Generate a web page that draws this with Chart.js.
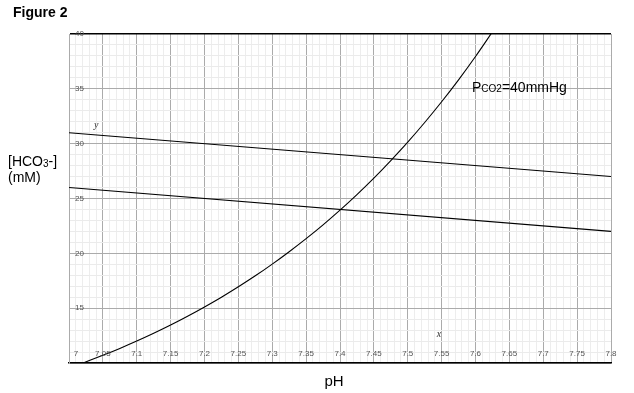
<!DOCTYPE html>
<html>
<head>
<meta charset="utf-8">
<script src="https://cdn.jsdelivr.net/npm/chart.js@4.4.1/dist/chart.umd.min.js"></script>
<style>
  html, body { margin: 0; padding: 0; background: #fff; }
  #wrap { position: relative; width: 634px; height: 393px; }
</style>
</head>
<body>
<div id="wrap"><canvas id="chart" width="634" height="393"></canvas></div>
<script>
// --- Data ---
// pH on the x axis, [HCO3-] in mM on the y axis
const xTickLabels = ['7', '7.05', '7.1', '7.15', '7.2', '7.25', '7.3', '7.35', '7.4',
                     '7.45', '7.5', '7.55', '7.6', '7.65', '7.7', '7.75', '7.8'];
const yTickLabels = [15, 20, 25, 30, 35, 40];

// PCO2 = 40 mmHg isobar
const curvePH   = [7.02, 7.05, 7.075, 7.1, 7.125, 7.15, 7.175, 7.2, 7.225, 7.25, 7.275, 7.3,
                   7.325, 7.35, 7.375, 7.4, 7.425, 7.45, 7.475, 7.5, 7.525, 7.55, 7.575, 7.6, 7.625];
const curveHCO3 = [9.98, 10.70, 11.33, 12.0, 12.71, 13.46, 14.26, 15.11, 16.00, 16.95, 17.95, 19.02,
                   20.15, 21.34, 22.60, 23.94, 25.36, 26.86, 28.46, 30.14, 31.93, 33.82, 35.82, 37.95, 40.20];

// the two straight buffer lines
const upperLinePH   = [7.0, 7.8];
const upperLineHCO3 = [31.0, 27.0];
const lowerLinePH   = [7.0, 7.8];
const lowerLineHCO3 = [26.0, 22.0];

(function () {
    const ctx = document.getElementById('chart').getContext('2d');
    const sans = '"Liberation Sans", Arial, Helvetica, sans-serif';

    function toPoints(xs, ys) {
        return xs.map((x, i) => ({ x: x, y: ys[i] }));
    }

    function isMultiple(v, step) {
        const r = v / step;
        return Math.abs(r - Math.round(r)) < 1e-6;
    }

    // --- Text drawn on top: title, axis names, tick labels, annotations ---
    const textPlugin = {
        id: 'figureText',
        afterDraw(chart) {
            const c = chart.ctx;
            const xs = chart.scales.x;
            const ys = chart.scales.y;
            c.save();
            c.fillStyle = '#000';
            c.textBaseline = 'alphabetic';

            c.font = 'bold 14px ' + sans;
            c.textAlign = 'left';
            c.fillText('Figure 2', 13, 17);

            // y axis name
            c.font = '14px ' + sans;
            c.fillText('[HCO', 8, 166);
            let w = c.measureText('[HCO').width;
            c.font = '10px ' + sans;
            c.fillText('3', 8 + w, 167);
            let w2 = c.measureText('3').width;
            c.font = '14px ' + sans;
            c.fillText('-]', 8 + w + w2, 166);
            c.fillText('(mM)', 8, 182);

            // x axis name
            c.font = '15px ' + sans;
            c.textAlign = 'center';
            c.fillText('pH', 334, 386);

            // PCO2 annotation
            c.textAlign = 'left';
            c.font = '14px ' + sans;
            let ax = 472, ay = 92;
            c.fillText('P', ax, ay);
            ax += c.measureText('P').width;
            c.font = '10px ' + sans;
            c.fillText('CO2', ax, ay);
            ax += c.measureText('CO2').width;
            c.font = '14px ' + sans;
            c.fillText('=40mmHg', ax, ay);

            // x tick labels, inside the plot
            c.font = '8px ' + sans;
            c.fillStyle = '#555';
            c.textAlign = 'center';
            xTickLabels.forEach((t, i) => {
                let px = xs.getPixelForValue(parseFloat(t));
                if (i === 0) px += 7;
                c.fillText(t, px, 356);
            });

            // italic axis letters
            c.fillStyle = '#333';
            c.font = 'italic 10px "Liberation Serif", "DejaVu Serif", serif';
            c.fillText('y', xs.getPixelForValue(7.04), ys.getPixelForValue(31.4));
            c.fillText('x', xs.getPixelForValue(7.546), ys.getPixelForValue(12.4));
            c.restore();
        }
    };

    const lineStyle = {
        borderColor: '#000',
        borderWidth: 1.1,
        pointRadius: 0,
        fill: false
    };

    new Chart(ctx, {
        type: 'line',
        data: {
            datasets: [
                { ...lineStyle, data: toPoints(curvePH, curveHCO3), tension: 0.4, cubicInterpolationMode: 'monotone' },
                { ...lineStyle, data: toPoints(upperLinePH, upperLineHCO3), tension: 0 },
                { ...lineStyle, data: toPoints(lowerLinePH, lowerLineHCO3), tension: 0 }
            ]
        },
        options: {
            responsive: false,
            animation: false,
            events: [],
            layout: { padding: { left: 57, top: 34, right: 23, bottom: 30 } },
            plugins: { legend: { display: false }, tooltip: { enabled: false } },
            scales: {
                x: {
                    type: 'linear',
                    min: 7.0,
                    max: 7.8,
                    afterBuildTicks(scale) {
                        const ticks = [];
                        for (let i = 0; i <= 80; i++) ticks.push({ value: 7.0 + i * 0.01 });
                        scale.ticks = ticks;
                    },
                    ticks: { display: false },
                    grid: {
                        drawTicks: false,
                        color: (c) => {
                            const v = c.tick ? c.tick.value : 0;
                            return isMultiple(v, 0.05) ? '#ababab' : '#ededed';
                        },
                        lineWidth: 1
                    },
                    border: { color: '#000', width: 1.5 }
                },
                y: {
                    type: 'linear',
                    min: 10,
                    max: 40,
                    ticks: {
                        stepSize: 1,
                        autoSkip: false,
                        mirror: true,
                        padding: 6,
                        color: '#555',
                        font: { family: sans, size: 8 },
                        callback: (v) => yTickLabels.includes(v) ? String(v) : ''
                    },
                    grid: {
                        drawTicks: false,
                        color: (c) => {
                            const v = c.tick ? c.tick.value : 0;
                            if (v === 40) return '#000';
                            return isMultiple(v, 5) ? '#ababab' : '#ebebeb';
                        },
                        lineWidth: (c) => (c.tick && c.tick.value === 40) ? 1.5 : 1
                    },
                    border: { color: '#ababab', width: 1 }
                }
            }
        },
        plugins: [textPlugin]
    });
})();
</script>
</body>
</html>
